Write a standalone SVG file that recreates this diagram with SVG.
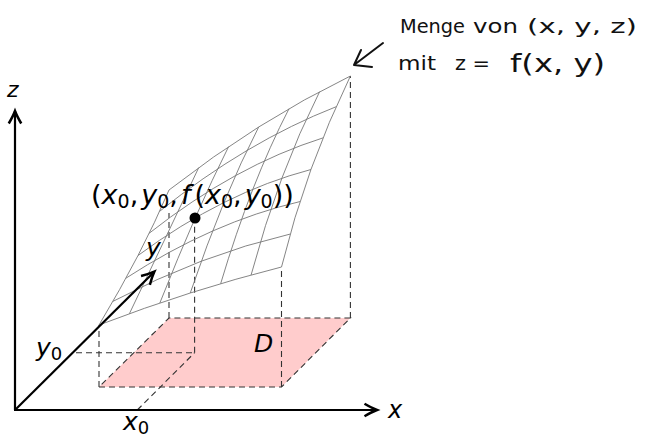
<svg xmlns="http://www.w3.org/2000/svg" width="645" height="439" viewBox="0 0 645 439">
<style>
.dash{fill:none;stroke:#333;stroke-width:1.1;stroke-dasharray:6 4}
.grid{fill:none;stroke:#777;stroke-width:0.9}
.axis{fill:none;stroke:#000;stroke-width:2.2}
.lbl{font-family:"DejaVu Sans",sans-serif;font-size:25px;fill:#000}
.it{font-style:italic}
.sub{font-size:18px;font-style:normal}
.hand{font-family:"DejaVu Sans",sans-serif;font-size:19px;fill:#111}
</style>
<defs>
<marker id="arr" markerUnits="userSpaceOnUse" markerWidth="20" markerHeight="20" viewBox="-12 -8 14 16" refX="0" refY="0" orient="auto">
<path d="M-10,-5 Q-4,-1.5 0,0 Q-4,1.5 -10,5" fill="none" stroke="#000" stroke-width="2"/>
</marker>
</defs>
<g id="domain">
<polygon points="99,387 281.5,387 350.4,318 169,318" fill="#ffcccc"/>
<polygon class="dash" points="99,387 281.5,387 350.4,318 169,318"/>
</g>
<g id="connectors">
<line class="dash" x1="99" y1="387" x2="99" y2="325"/>
<line class="dash" x1="281.5" y1="387" x2="281.5" y2="267"/>
<line class="dash" x1="350.4" y1="318" x2="350.4" y2="76"/>
<line class="dash" x1="169" y1="318" x2="169" y2="213"/>
<line class="dash" x1="194.6" y1="352.7" x2="194.6" y2="218"/>
<line class="dash" x1="76" y1="352.7" x2="194.6" y2="352.7"/>
<line class="dash" x1="137.3" y1="410" x2="194.6" y2="352.7"/>
</g>
<g id="surface" class="grid">
<path d="M99,325 Q190.25,290 281.5,267"/>
<path d="M112.89,301.39 Q201.22,254.61 290.21,234.06"/>
<path d="M125.89,278.22 Q212.29,222.11 300.02,201.56"/>
<path d="M138,255.5 Q223.48,192.5 310.95,169.5"/>
<path d="M149.22,233.22 Q234.77,165.78 322.99,137.89"/>
<path d="M159.56,211.39 Q246.18,141.94 336.14,106.72"/>
<path d="M169,190 Q257.7,121 350.4,76"/>
<path d="M99,325 Q142,253.5 169,190"/>
<path d="M129.42,313.67 Q169.05,230.56 198.68,167.67"/>
<path d="M159.83,303 Q196.2,211.06 228.58,146.67"/>
<path d="M190.25,293 Q223.48,195 258.7,127"/>
<path d="M220.67,283.67 Q250.86,182.39 289.04,108.67"/>
<path d="M251.08,275 Q278.35,173.22 319.61,91.67"/>
<path d="M281.5,267 Q305.95,167.5 350.4,76"/>
</g>
<g id="axes">
<line class="axis" x1="15" y1="410" x2="15" y2="111" marker-end="url(#arr)"/>
<line class="axis" x1="14" y1="410" x2="377" y2="410" marker-end="url(#arr)"/>
<line class="axis" x1="15" y1="410" x2="154.3" y2="271.7" marker-end="url(#arr)"/>
</g>
<g id="point">
<circle cx="195" cy="218" r="5.5" fill="#000"/>
</g>
<g id="labels" class="lbl">
<text x="7" y="97" class="it" style="font-size:22px">z</text>
<text x="388" y="418" class="it" style="font-size:24px">x</text>
<text x="146" y="256" class="it">y</text>
<text x="36" y="356"><tspan class="it">y</tspan><tspan class="sub" dy="4">0</tspan></text>
<text x="123" y="430"><tspan class="it">x</tspan><tspan class="sub" dy="4">0</tspan></text>
<text x="254" y="352" class="it">D</text>
<text x="91" y="204" style="font-size:27px">(<tspan class="it">x</tspan><tspan class="sub" style="font-size:19px" dy="4">0</tspan><tspan dy="-4">,</tspan><tspan class="it" dx="3">y</tspan><tspan class="sub" style="font-size:19px" dy="4">0</tspan><tspan dy="-4">,</tspan><tspan class="it" dx="3">f</tspan><tspan dx="4">(</tspan><tspan class="it">x</tspan><tspan class="sub" style="font-size:19px" dy="4">0</tspan><tspan dy="-4">,</tspan><tspan class="it" dx="3">y</tspan><tspan class="sub" style="font-size:19px" dy="4">0</tspan><tspan dy="-4">))</tspan></text>
</g>
<g id="annotation">
<text class="hand" x="400" y="33" textLength="65" lengthAdjust="spacingAndGlyphs">Menge</text>
<text class="hand" x="473" y="33" textLength="45" lengthAdjust="spacingAndGlyphs">von</text>
<text class="hand" x="527" y="33" textLength="110" lengthAdjust="spacingAndGlyphs">(x, y, z)</text>
<text class="hand" x="398" y="70" textLength="38" lengthAdjust="spacingAndGlyphs">mit</text>
<text class="hand" x="455" y="70" textLength="35" lengthAdjust="spacingAndGlyphs">z =</text>
<text class="hand" x="510" y="72" textLength="95" lengthAdjust="spacingAndGlyphs" style="font-size:25px">f(x, y)</text>
<path d="M383,43 L354,65 M361,50 L354,65 L372,67" fill="none" stroke="#111" stroke-width="2" stroke-linecap="round" stroke-linejoin="round"/>
</g>
</svg>
